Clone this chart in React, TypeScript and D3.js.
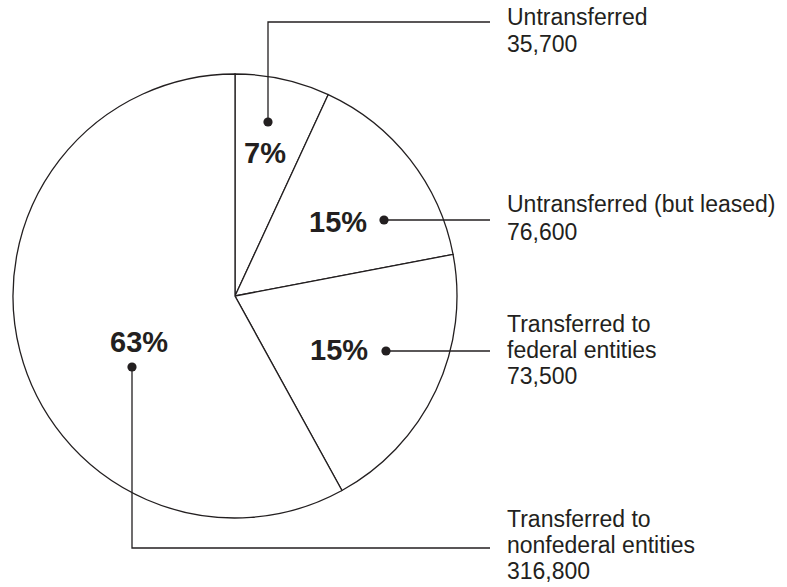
import React from "react";
import * as d3 from "d3";

// Categories and their reported values
const categories = [
  "Untransferred",
  "Untransferred (but leased)",
  "Transferred to federal entities",
  "Transferred to nonfederal entities",
];
const values = [35700, 76600, 73500, 316800];
const percentLabels = ["7%", "15%", "15%", "63%"];
// Slice sizes as drawn in the reference picture (percent of the circle)
const drawnShares = [6.9, 15.1, 20.0, 58.0];
// Label text lines
const labelLines = [
  ["Untransferred", "35,700"],
  ["Untransferred (but leased)", "76,600"],
  ["Transferred to", "federal entities", "73,500"],
  ["Transferred to", "nonfederal entities", "316,800"],
];

const W = 787;
const H = 587;
const CX = 235;
const CY = 296;
const R = 222;
const INK = "#231f20";
const FONT = "'Liberation Sans', Arial, Helvetica, sans-serif";

// Annotation layout (dot, leader path, percent text, label block)
const layout = [
  { dot: [268, 122], path: [[268, 122], [268, 22], [490, 22]], pct: [244, 163], text: [507, 25], lh: 27 },
  { dot: [384, 220], path: [[384, 220], [490, 220]], pct: [309, 232], text: [507, 212], lh: 28 },
  { dot: [386, 351], path: [[386, 351], [490, 351]], pct: [310, 360], text: [507, 332], lh: 26 },
  { dot: [132, 367], path: [[132, 367], [132, 548], [490, 548]], pct: [110, 352], text: [507, 527], lh: 26 },
];

export default function App() {
  const pie = d3
    .pie<number>()
    .sort(null)
    .value((d) => d)
    .startAngle(0)
    .endAngle(2 * Math.PI);
  const arcs = pie(drawnShares);
  const arcGen = d3.arc<d3.PieArcDatum<number>>().innerRadius(0).outerRadius(R);
  const line = d3.line();

  return (
    <svg width={W} height={H} style={{ position: "absolute", left: 0, top: 0, background: "#fff" }}>
      <g transform={`translate(${CX},${CY})`}>
        {arcs.map((a, i) => (
          <path
            key={categories[i]}
            d={arcGen(a) || ""}
            fill="#fff"
            stroke={INK}
            strokeWidth={1.3}
            strokeLinejoin="miter"
          />
        ))}
      </g>
      {layout.map((l, i) => (
        <g key={"ann" + i}>
          <path d={line(l.path as [number, number][]) || ""} fill="none" stroke={INK} strokeWidth={1.3} />
          <circle cx={l.dot[0]} cy={l.dot[1]} r={4.6} fill={INK} />
          <text x={l.pct[0]} y={l.pct[1]} fontFamily={FONT} fontWeight="bold" fontSize={29} fill={INK}>
            {percentLabels[i]}
          </text>
          {labelLines[i].map((t, j) => (
            <text key={j} x={l.text[0]} y={l.text[1] + j * l.lh} fontFamily={FONT} fontSize={23} fill={INK}>
              {t}
            </text>
          ))}
          <title>{`${categories[i]}: ${values[i]}`}</title>
        </g>
      ))}
    </svg>
  );
}
